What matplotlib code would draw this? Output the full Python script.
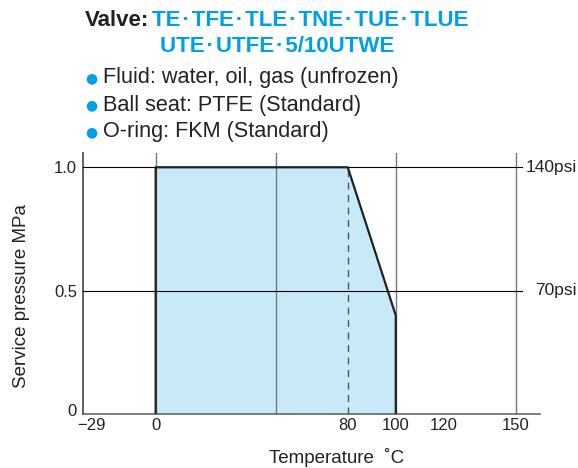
import matplotlib.pyplot as plt
from matplotlib.transforms import ScaledTranslation

# service range of the valve
temp = [0, 0, 80, 100, 100]
pressure = [0, 1.0, 1.0, 0.4, 0]

xticks = [-29, 0, 80, 100, 120, 150]
xtick_labels = ["\u221229", "0", "80", "100", "120", "150"]
yticks = [0, 0.5, 1.0]
ytick_labels = ["0", "0.5", "1.0"]
grid_x = [0, 50, 100, 150]
grid_y = [0.5, 1.0]
psi_labels = ["70psi", "140psi"]

blue = "#00a0e9"
fill = "#c8e9f8"

plt.rcParams['font.family'] = ['Liberation Sans', 'DejaVu Sans']

fig = plt.figure(figsize=(5.78, 4.68), dpi=100)
ax = fig.add_axes([0.143, 0.1147, 0.791, 0.5585])
ax.set_xlim(-30.4, 160)
ax.set_ylim(0, 1.058)

ax.fill(temp, pressure, color=fill, zorder=1)
for gx in grid_x:
    ax.plot([gx, gx], [0, 1.058], color="#777777", lw=1.0, zorder=2)
for gy in grid_y:
    ax.plot([-30.4, 152.6], [gy, gy], color="black", lw=0.8, zorder=3)

ax.plot(temp, pressure, color="#222222", lw=1.6, zorder=4)
ax.plot([80, 80], [0, 1.0], color="#555555", lw=1.0, ls=(0, (5, 4)), zorder=3)

ax.set_xticks(xticks)
ax.set_xticklabels(xtick_labels)
ax.set_yticks(yticks)
ax.set_yticklabels(ytick_labels)
ax.tick_params(length=0, labelsize=12, pad=4, labelcolor="#222222")
ax.tick_params(axis="x", pad=3)
# lift the "0" a little so it clears the "-29", and nudge "-29" right
lab0 = ax.get_yticklabels()[0]
lab0.set_transform(lab0.get_transform()
                   + ScaledTranslation(0, 3 / 72, fig.dpi_scale_trans))
lab29 = ax.get_xticklabels()[0]
lab29.set_transform(lab29.get_transform()
                    + ScaledTranslation(4 / 72, 0, fig.dpi_scale_trans))

for sp in ["top", "right"]:
    ax.spines[sp].set_visible(False)
ax.spines["left"].set_color("#444444")
ax.spines["bottom"].set_color("#666666")
ax.spines["left"].set_linewidth(1.2)
ax.spines["bottom"].set_linewidth(1.2)

for gy, lab in zip(grid_y, psi_labels):
    ax.text(1.081, gy, lab, transform=ax.get_yaxis_transform(), ha="right",
            va="center", fontsize=12.5, color="#222222")

ax.set_xlabel("Temperature  \u02daC", fontsize=13.5, color="#222222")
ax.set_ylabel("Service pressure MPa", fontsize=13.5, color="#222222")
ax.xaxis.set_label_coords(0.556, -0.129)
ax.yaxis.set_label_coords(-0.115, 0.452)

W, H = 578, 468
hs = "\u200a"
fig.text(85 / W, 1 - 20 / H, "Valve:", fontsize=16, fontweight="bold",
         va="center", color="#222222")
fig.text(152 / W, 1 - 20 / H,
         (hs + "\u00b7" + hs).join(["TE", "TFE", "TLE", "TNE", "TUE", "TLUE"]),
         fontsize=16, fontweight="bold", va="center", color=blue)
fig.text(160 / W, 1 - 47 / H,
         (hs + "\u00b7" + hs).join(["UTE", "UTFE", "5/10UTWE"]),
         fontsize=16, fontweight="bold", va="center", color=blue)

bullets = ["Fluid: water, oil, gas (unfrozen)",
           "Ball seat: PTFE (Standard)",
           "O-ring: FKM (Standard)"]
for i, b in enumerate(bullets):
    y = 1 - (78 + 27 * i) / H
    fig.text(91 / W, y, "\u25cf", fontsize=10, color=blue, ha="center",
             va="center", family=["DejaVu Sans"])
    fig.text(103 / W, y, b, fontsize=15.6, color="#222222", va="center")

fig.savefig("out.png", dpi=100)
